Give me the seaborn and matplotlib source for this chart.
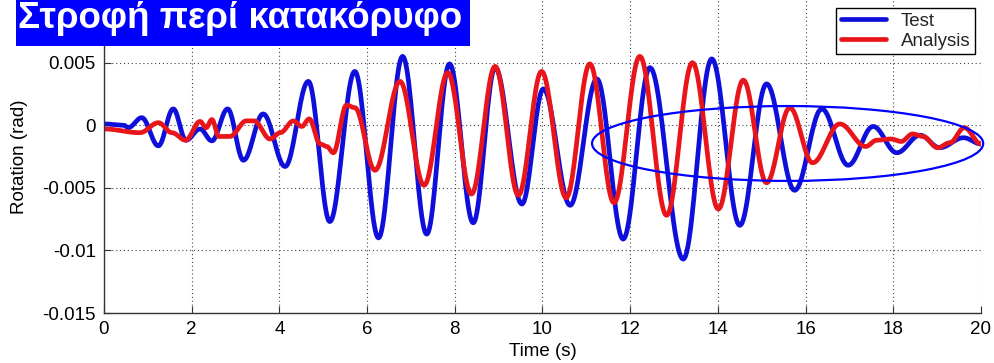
import numpy as np
import pandas as pd
import matplotlib
matplotlib.use("Agg")
import matplotlib.pyplot as plt
import seaborn as sns
from matplotlib.patches import Ellipse, Rectangle

# ---------------- data ----------------
test_time = [0.0, 0.45, 0.55, 0.86, 1.24, 1.58, 1.87, 2.19, 2.46, 2.82, 3.18, 3.63,
             4.13, 4.66, 5.15, 5.72, 6.26, 6.81, 7.36, 7.88, 8.42, 8.92, 9.53, 10.02,
             10.63, 11.24, 11.84, 12.45, 13.21, 13.86, 14.50, 15.11, 15.75, 16.37,
             16.97, 17.54, 18.08, 18.61, 19.06, 19.60, 20.0]
test_rotation = [0.0001, 0.0, -0.0002, 0.0006, -0.00165, 0.0013, -0.0012, -0.0003,
                 -0.00125, 0.0013, -0.0028, 0.0009, -0.0033, 0.0035, -0.0077, 0.0043,
                 -0.0090, 0.0055, -0.0087, 0.0049, -0.0078, 0.0046, -0.0063, 0.0029,
                 -0.0064, 0.0037, -0.0091, 0.0046, -0.0107, 0.0053, -0.0080, 0.0033,
                 -0.0052, 0.0013, -0.0032, -0.0001, -0.0022, -0.0008, -0.0018,
                 -0.0010, -0.0015]

analysis_time = [0.0, 0.82, 1.24, 1.55, 1.86, 2.19, 2.33, 2.46, 2.62, 2.87, 3.25, 3.42,
                 3.79, 4.02, 4.32, 4.51, 4.68, 4.93, 5.08, 5.23, 5.53, 5.72, 6.18, 6.75,
                 7.30, 7.84, 8.38, 8.92, 9.45, 9.98, 10.54, 11.08, 11.63, 12.22, 12.83,
                 13.42, 14.01, 14.58, 15.11, 15.64, 16.16, 16.78, 17.37, 17.62, 17.95,
                 18.18, 18.44, 18.68, 19.01, 19.29, 19.62, 20.0]
analysis_rotation = [-0.0003, -0.0006, 0.0002, -0.0006, -0.0012, 0.0003, -0.0002,
                     0.00045, -0.0009, -0.0009, 0.00035, 0.00035, -0.0011, -0.0006,
                     0.00034, -0.0001, 0.0005, -0.0015, -0.0017, -0.0022, 0.0016,
                     0.0014, -0.0036, 0.0035, -0.0048, 0.0042, -0.0055, 0.0047,
                     -0.0056, 0.0043, -0.0058, 0.0049, -0.0062, 0.0055, -0.0072,
                     0.0050, -0.0067, 0.0036, -0.0046, 0.0014, -0.0030, 0.0001,
                     -0.0017, -0.0012, -0.0011, -0.0013, -0.0007, -0.0009, -0.0018,
                     -0.0014, -0.0002, -0.0015]

series_names = ["Test", "Analysis"]
x_ticks = [0, 2, 4, 6, 8, 10, 12, 14, 16, 18, 20]
y_ticks = [-0.015, -0.01, -0.005, 0, 0.005]
y_tick_labels = ["-0.015", "-0.01", "-0.005", "0", "0.005"]
title_text = "Στροφή περί κατακόρυφο"
x_label = "Time (s)"
y_label = "Rotation (rad)"


def eased(t, v, n=24):
    """Render helper: smooth (half-cosine) path through the read-off points."""
    t = np.asarray(t, float)
    v = np.asarray(v, float)
    s = np.linspace(0, 1, n + 1)[1:]
    w = (1 - np.cos(np.pi * s)) / 2
    xs, ys = [t[0]], [v[0]]
    for i in range(len(t) - 1):
        xs.extend(t[i] + (t[i + 1] - t[i]) * s)
        ys.extend(v[i] + (v[i + 1] - v[i]) * w)
    return np.array(xs), np.array(ys)


sns.set_theme(style="white")
plt.rcParams["font.family"] = ["Liberation Sans", "DejaVu Sans"]

W, H = 995, 363
fig = plt.figure(figsize=(W / 100, H / 100), dpi=100)
ax = fig.add_axes([104 / W, 50 / H, 877 / W, 313 / H])

blue = "#0f0fdc"
red = "#e8161b"

tx, ty = eased(test_time, test_rotation)
ax_df = pd.DataFrame({"t": tx, "v": ty})
sns.lineplot(data=ax_df, x="t", y="v", ax=ax, color=blue, lw=3.4,
             estimator=None, sort=False, label=series_names[0])
rx, ry = eased(analysis_time, analysis_rotation)
an_df = pd.DataFrame({"t": rx, "v": ry})
sns.lineplot(data=an_df, x="t", y="v", ax=ax, color=red, lw=3.4,
             estimator=None, sort=False, label=series_names[1])

ax.set_xlim(0, 20)
ax.set_ylim(-0.015, 0.01)
ax.set_xticks(x_ticks)
ax.set_xticklabels([str(x) for x in x_ticks])
ax.set_yticks(y_ticks)
ax.set_yticklabels(y_tick_labels)
ax.grid(True, linestyle=(0, (1, 2.5)), color="#444444", linewidth=0.8)
for side in ("top", "right"):
    ax.spines[side].set_visible(False)
for side in ("left", "bottom"):
    ax.spines[side].set_color("#333333")
    ax.spines[side].set_linewidth(1.0)
ax.tick_params(direction="in", length=5, width=0.8, color="#333333",
               labelsize=13.5, pad=6, labelcolor="black", bottom=True, left=True)
ax.set_xlabel(x_label, fontsize=13.5, labelpad=3, color="black")
ax.set_ylabel(y_label, fontsize=13.5, labelpad=10, color="black")

# annotation ellipse
ell = Ellipse((15.59, -0.00146), width=8.92, height=0.00598, fill=False,
              edgecolor="#0000ff", lw=1.6, clip_on=False, zorder=6)
ax.add_patch(ell)

leg = ax.legend(loc="upper right", bbox_to_anchor=(975 / W, 1 - 8 / H),
                bbox_transform=fig.transFigure, fontsize=13.5, frameon=True,
                fancybox=False, edgecolor="black", framealpha=1,
                borderaxespad=0, handlelength=2.4, handletextpad=0.8,
                labelspacing=0.15, borderpad=0.25)
leg.get_frame().set_linewidth(1.0)
leg.set_zorder(10)

# title banner
rect = Rectangle((16 / W, 1 - 46 / H), 454 / W, 46 / H, transform=fig.transFigure,
                 facecolor="#0000ff", edgecolor="none", zorder=20)
fig.add_artist(rect)
tt = fig.text(18 / W, 1 - 28 / H, title_text, color="white", fontweight="bold",
              fontsize=22, ha="left", va="baseline", zorder=21)
fig.canvas.draw()
wpx = tt.get_window_extent().width
tt.set_fontsize(22 * 445 / wpx)

fig.savefig("out.png", dpi=100)
